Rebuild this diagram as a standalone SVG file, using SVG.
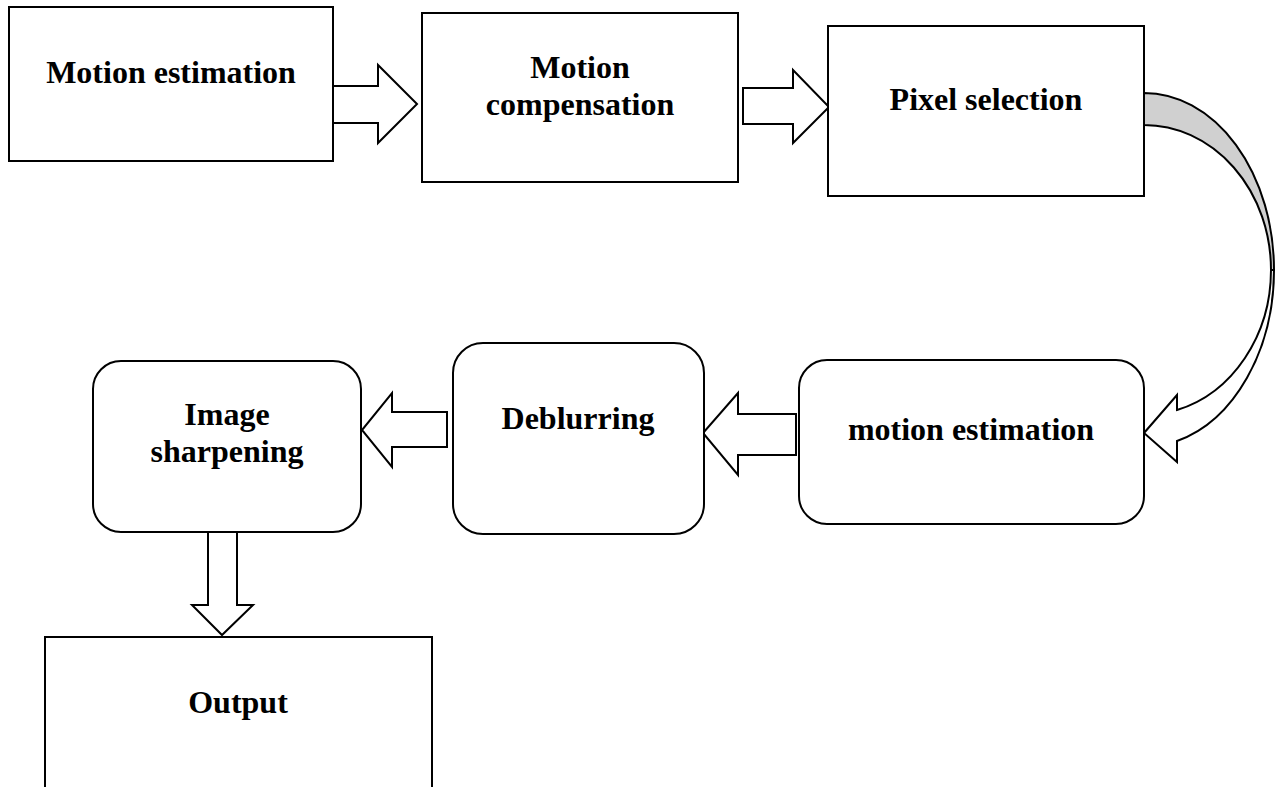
<svg xmlns="http://www.w3.org/2000/svg" width="1275" height="787" viewBox="0 0 1275 787">
<style>
.box{fill:#fff;stroke:#000;stroke-width:2}
.arr{fill:#fff;stroke:#000;stroke-width:2;stroke-linejoin:miter}
.lbl{font-family:"Liberation Serif","Times New Roman",serif;font-weight:bold;font-size:32px;fill:#000;text-anchor:middle}
</style>
<rect width="1275" height="787" fill="#fff"/>
<g id="connectors">
<path class="arr" d="M333,86 L378,86 L378,65 L417,104 L378,143 L378,123 L333,123 Z"/>
<path class="arr" d="M743,88 L793,88 L793,70 L829,107 L793,143 L793,124 L743,124 Z"/>
<path d="M1144,93 A130,177 0 0 1 1274,270 L1271,270 A127,145 0 0 0 1144,125 Z" fill="#d0d0d0" stroke="#000" stroke-width="2"/>
<path class="arr" d="M1274,270 A130,177 0 0 1 1177,441 L1177,462 L1144,433 L1177,395 L1177,410 A127,145 0 0 0 1271,270 Z"/>
<path class="arr" d="M796,414 L738,414 L738,393 L703,433 L738,475 L738,455 L796,455 Z"/>
<path class="arr" d="M447,412 L392,412 L392,393 L362,430 L392,467 L392,447 L447,447 Z"/>
<path class="arr" d="M208,532 L208,605 L192,605 L222,635 L253,605 L237,605 L237,532 Z"/>
</g>
<g id="n1"><rect class="box" x="9" y="7" width="324" height="154"/><text class="lbl" x="171" y="83">Motion estimation</text></g>
<g id="n2"><rect class="box" x="422" y="13" width="316" height="169"/><text class="lbl" x="580" y="78">Motion</text><text class="lbl" x="580" y="115">compensation</text></g>
<g id="n3"><rect class="box" x="828" y="26" width="316" height="170"/><text class="lbl" x="986" y="110">Pixel selection</text></g>
<g id="n4"><rect class="box" x="799" y="360" width="345" height="164" rx="28"/><text class="lbl" x="971" y="440">motion estimation</text></g>
<g id="n5"><rect class="box" x="453" y="343" width="251" height="191" rx="30"/><text class="lbl" x="578" y="429">Deblurring</text></g>
<g id="n6"><rect class="box" x="93" y="361" width="268" height="171" rx="28"/><text class="lbl" x="227" y="425">Image</text><text class="lbl" x="227" y="462">sharpening</text></g>
<g id="n7"><rect class="box" x="45" y="637" width="387" height="180"/><text class="lbl" x="238" y="713">Output</text></g>
</svg>
